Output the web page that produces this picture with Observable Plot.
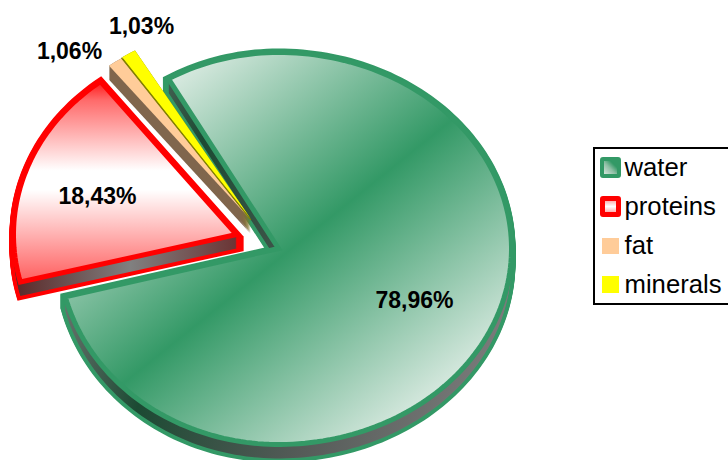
<!DOCTYPE html>
<html>
<head>
<meta charset="utf-8">
<script src="https://cdn.jsdelivr.net/npm/d3@7"></script>
<script src="https://cdn.jsdelivr.net/npm/@observablehq/plot@0.6"></script>
<style>
  html, body { margin: 0; padding: 0; background: #fff; }
  #chart { position: relative; width: 728px; height: 460px; overflow: hidden; font-family: "Liberation Sans", Arial, sans-serif; }
  #chart svg { display: block; }
  .legend { position: absolute; left: 593px; top: 147px; width: 140px; height: 153.5px; border: 2.5px solid #000; background: #fff; box-sizing: content-box; }
  .legend .row { position: absolute; left: 0; height: 39px; display: flex; align-items: center; font-size: 25.7px; color: #000; white-space: nowrap; }
</style>
</head>
<body>
<div id="chart"></div>
<script>
// Composition of the tissue, in percent
const categories = ["water", "proteins", "fat", "minerals"];
const shares = [78.96, 18.43, 1.06, 1.03];
const faceColors = ["url(#waterFace)", "url(#proteinFace)", "#ffcc99", "#ffff00"];
const wallColors = ["url(#waterWall)", "url(#proteinWall)", "#80664d", "#808000"];
const edgeColors = ["#339966", "#ff0000", "none", "none"];

// Tilted-pie layout: radii on each side of the apex, slice centres after exploding,
// extrusion depth, label offset from the apex
const firstAngle = 330;
const layout = {
  water:    {cx: 278, cy: 248, rxLeft: 220, rxRight: 233, ry: 196, depth: 14, dx: 136, dy: 52},
  proteins: {cx: 236, cy: 234, rxLeft: 223, rxRight: 223, ry: 193, depth: 14, dx: -139, dy: -38},
  fat:      {cx: 250, cy: 219, rxLeft: 232, rxRight: 232, ry: 194, depth: 14, dx: -181, dy: -168},
  minerals: {cx: 250, cy: 218, rxLeft: 231, rxRight: 231, ry: 194, depth: 14, dx: -109, dy: -192}
};

const total = d3.sum(shares);
let cursor = firstAngle;
const slices = categories.map((name, i) => {
  const sweep = shares[i] / total * 360;
  const slice = {name, start: cursor, end: cursor + sweep, share: shares[i], ...layout[name],
                 face: faceColors[i], wall: wallColors[i], edge: edgeColors[i]};
  cursor += sweep;
  return slice;
});

const rad = Math.PI / 180;
// Outline of a slice on the tilted disc, lowered by the given amount
function outline(s, drop = 0) {
  const n = Math.max(4, Math.ceil((s.end - s.start) / 1.5));
  const pts = [{x: s.cx, y: s.cy + drop, level: drop}];
  for (let k = 0; k <= n; ++k) {
    const a = (s.start + (s.end - s.start) * k / n) * rad;
    const sin = Math.sin(a);
    pts.push({x: s.cx + (sin < 0 ? s.rxLeft : s.rxRight) * sin, y: s.cy + drop - s.ry * Math.cos(a), level: drop});
  }
  return pts;
}
const sweepLayers = (s) => d3.range(0, s.depth + 1).flatMap((d) => outline(s, d));

function wallMarks(s) {
  const common = {x: "x", y: "y", z: "level", curve: "linear-closed"};
  const marks = [];
  if (s.edge !== "none") {
    marks.push(Plot.line(sweepLayers(s), {...common, fill: s.edge, stroke: s.edge, strokeWidth: 8, strokeLinejoin: "miter", strokeMiterlimit: 3}));
  }
  marks.push(Plot.line(sweepLayers(s), {...common, fill: s.wall, stroke: "none"}));
  return marks;
}
function faceMark(s) {
  return Plot.line(outline(s), {x: "x", y: "y", curve: "linear-closed", fill: s.face, stroke: s.edge,
    strokeWidth: 5, strokeLinejoin: "miter", strokeMiterlimit: 3});
}

// Gradient definitions used by the faces and walls
function gradients() {
  const defs = d3.create("svg:defs");
  const add = (id, x1, y1, x2, y2, stops) => {
    const g = defs.append("linearGradient").attr("id", id).attr("gradientUnits", "userSpaceOnUse")
      .attr("x1", x1).attr("y1", y1).attr("x2", x2).attr("y2", y2);
    for (const [o, c] of stops) g.append("stop").attr("offset", o).attr("stop-color", c);
  };
  add("waterFace", 80, 110, 380, 484, [[0, "#f2f6f3"], [0.5, "#339966"], [1, "#f2f6f3"]]);
  add("proteinFace", 0, 76, 0, 290, [[0, "#ff0000"], [0.11, "#ff6a6a"], [0.3, "#ffc0c0"], [0.44, "#ffffff"],
    [0.53, "#ffffff"], [0.72, "#ffb8b8"], [0.91, "#ff7070"], [1, "#ff5050"]]);
  add("waterWall", 60, 180, 540, 297, [[0, "#808080"], [0.26, "#1c4a33"], [0.6, "#555b58"], [1, "#808080"]]);
  add("proteinWall", 18, 0, 242, 0, [[0, "#5c2b2b"], [0.5, "#808080"], [1, "#6a3030"]]);
  return defs.node();
}

const water = slices[0], proteins = slices[1], fat = slices[2], minerals = slices[3];
const seam = outline(fat).slice(-1).concat(outline(fat)[0]);

const labelMarks = slices.map((s) => Plot.text([s], {
  x: (d) => d.cx + d.dx,
  y: (d) => d.cy + d.dy,
  text: (d) => d.share.toFixed(2).replace(".", ",") + "%",
  fontSize: 23, fontWeight: "bold", fill: "#000", fontFamily: "Liberation Sans, Arial, sans-serif"
}));

const plot = Plot.plot({
  width: 728,
  height: 460,
  margin: 0,
  x: {axis: null, domain: [0, 728], range: [0, 728]},
  y: {axis: null, domain: [0, 460], range: [0, 460]},
  marks: [
    gradients,
    ...wallMarks(water),
    faceMark(water),
    ...wallMarks(minerals),
    ...wallMarks(fat),
    ...wallMarks(proteins),
    faceMark(proteins),
    faceMark(fat),
    faceMark(minerals),
    Plot.line(seam, {x: "x", y: "y", stroke: "#808000", strokeWidth: 1.2}),
    ...labelMarks
  ]
});

const chart = document.getElementById("chart");
chart.appendChild(plot);

// Legend box to the right of the pie
const legend = d3.select(chart).append("div").attr("class", "legend");
const swatches = [
  {w: 21, h: 21, pad: 4.5, gap: 4, border: "4px solid #339966", bg: "linear-gradient(45deg,#d5e5db 0%,#8fbfa5 45%,#339966 75%)", r: 3},
  {w: 21, h: 21, pad: 4.5, gap: 4, border: "5px solid #ff0000", bg: "linear-gradient(180deg,#ffb0b0,#ffffff 50%,#ffb0b0)", r: 3},
  {w: 17, h: 16, pad: 6.5, gap: 6, border: "none", bg: "#ffcc99", r: 0},
  {w: 17, h: 17, pad: 6.5, gap: 6, border: "none", bg: "#ffff00", r: 0}
];
categories.forEach((name, i) => {
  const sw = swatches[i];
  const row = legend.append("div").attr("class", "row")
    .style("top", `${-1 + i * 39}px`)
    .style("padding-left", `${sw.pad}px`);
  row.append("div")
    .style("box-sizing", "border-box")
    .style("width", `${sw.w}px`).style("height", `${sw.h}px`)
    .style("border", sw.border).style("background", sw.bg).style("border-radius", `${sw.r}px`)
    .style("margin-right", `${sw.gap}px`);
  row.append("span").text(name);
});
</script>
</body>
</html>
